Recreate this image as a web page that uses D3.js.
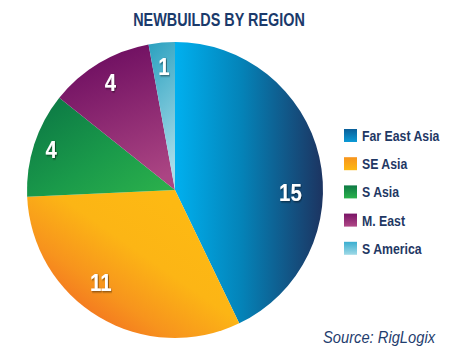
<!DOCTYPE html>
<html>
<head>
<meta charset="utf-8">
<script src="https://cdn.jsdelivr.net/npm/d3@7"></script>
<style>
  html, body { margin: 0; padding: 0; background: #fff; }
  svg { display: block; }
  text { font-family: "Liberation Sans", Arial, Helvetica, sans-serif; }
</style>
</head>
<body>
<svg id="chart" width="450" height="360"></svg>
<script>
const categories = ["Far East Asia", "SE Asia", "S Asia", "M. East", "S America"];
const values = [15, 11, 4, 4, 1];
const labelShiftDeg = [14, 8, 0, 0, 0];
const labelRadius = [0.78, 0.8, 0.88, 0.85, 0.84];
const gradients = [
  { x1: 0, y1: 0, x2: 1, y2: 0, stops: [["0%", "#00b0ef"], ["45%", "#0483b8"], ["100%", "#1c3461"]] },
  { x1: 0.1, y1: 0.9, x2: 0.8, y2: 0.2, stops: [["0%", "#f15f23"], ["35%", "#f7941d"], ["65%", "#fcb515"], ["100%", "#fdb913"]] },
  { x1: 0, y1: 0, x2: 1, y2: 1, stops: [["0%", "#0a7444"], ["55%", "#1a9a4a"], ["100%", "#2db34c"]] },
  { x1: 0.3, y1: 0, x2: 0.6, y2: 1, stops: [["0%", "#6b0b5f"], ["100%", "#ab4583"]] },
  { x1: 0, y1: 0, x2: 0.2, y2: 1, stops: [["0%", "#2aa0bf"], ["100%", "#a8dde9"]] }
];
const legendGrad = [
  ["#0a5f99", "#0c9ad6"],
  ["#f7941d", "#fdb913"],
  ["#0e7a45", "#2bb24c"],
  ["#7a1466", "#b04887"],
  ["#3aaed0", "#9fd9e6"]
];

const svg = d3.select("#chart");
const defs = svg.append("defs");

gradients.forEach((g, i) => {
  const lg = defs.append("linearGradient").attr("id", "g" + i)
    .attr("x1", g.x1).attr("y1", g.y1).attr("x2", g.x2).attr("y2", g.y2);
  g.stops.forEach(s => lg.append("stop").attr("offset", s[0]).attr("stop-color", s[1]));
});
legendGrad.forEach((g, i) => {
  const lg = defs.append("linearGradient").attr("id", "lg" + i)
    .attr("x1", 0).attr("y1", 0).attr("x2", 0).attr("y2", 1);
  lg.append("stop").attr("offset", "0%").attr("stop-color", g[0]);
  lg.append("stop").attr("offset", "100%").attr("stop-color", g[1]);
});
const sh = defs.append("filter").attr("id", "shadow").attr("x", "-50%").attr("y", "-50%").attr("width", "200%").attr("height", "200%");
sh.append("feDropShadow").attr("dx", 1).attr("dy", 1).attr("stdDeviation", 0.8).attr("flood-color", "#000").attr("flood-opacity", 0.55);

const cx = 175, cy = 190, R = 148;
const pie = d3.pie().sort(null).value(d => d);
const arcs = pie(values);
const arc = d3.arc().innerRadius(0).outerRadius(R);

const g = svg.append("g").attr("transform", `translate(${cx},${cy})`);
g.selectAll("path.slice").data(arcs).enter().append("path")
  .attr("class", "slice")
  .attr("d", arc)
  .attr("fill", (d, i) => `url(#g${i})`);

g.selectAll("text.val").data(arcs).enter().append("text")
  .attr("class", "val")
  .attr("transform", (d, i) => {
    const a = (d.startAngle + d.endAngle) / 2 + labelShiftDeg[i] * Math.PI / 180;
    const r = R * labelRadius[i];
    return `translate(${r * Math.sin(a)},${-r * Math.cos(a)}) scale(0.85,1)`;
  })
  .attr("text-anchor", "middle")
  .attr("dy", "0.36em")
  .attr("font-size", 24)
  .attr("font-weight", "bold")
  .attr("fill", "#fff")
  .attr("filter", "url(#shadow)")
  .text(d => d.data);

svg.append("text")
  .attr("transform", "translate(219,26) scale(0.8,1)")
  .attr("text-anchor", "middle")
  .attr("font-size", 18)
  .attr("font-weight", "bold")
  .attr("fill", "#1b3a6b")
  .text("NEWBUILDS BY REGION");

const legend = svg.append("g").attr("transform", "translate(344,129)");
const rows = legend.selectAll("g").data(categories).enter().append("g")
  .attr("transform", (d, i) => `translate(0,${i * 28.2})`);
rows.append("rect").attr("width", 13).attr("height", 13)
  .attr("fill", (d, i) => `url(#lg${i})`);
rows.append("text")
  .attr("transform", "translate(18,6.5) scale(0.82,1)")
  .attr("dy", "0.36em")
  .attr("font-size", 15).attr("font-weight", "bold").attr("fill", "#1f3864")
  .text(d => d);

svg.append("text")
  .attr("transform", "translate(435,343) scale(0.92,1)")
  .attr("text-anchor", "end")
  .attr("font-size", 16)
  .attr("font-style", "italic")
  .attr("fill", "#1f3d6e")
  .text("Source: RigLogix");
</script>
</body>
</html>
